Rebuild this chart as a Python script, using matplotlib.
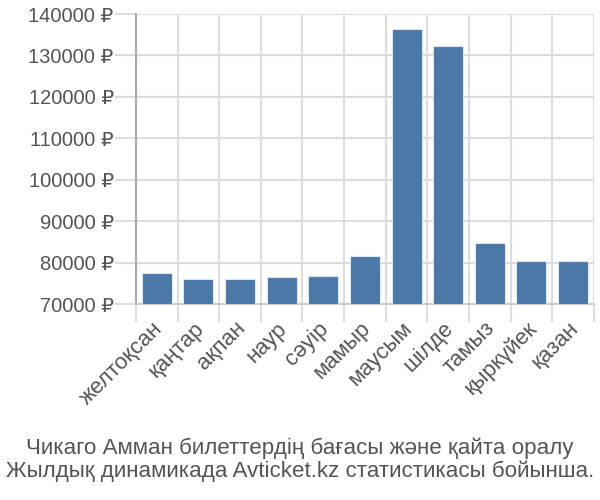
import matplotlib.pyplot as plt
import matplotlib.transforms as mtransforms
import numpy as np

months = ['желтоқсан', 'қаңтар', 'ақпан', 'наур', 'сәуір', 'мамыр',
          'маусым', 'шілде', 'тамыз', 'қыркүйек', 'қазан']
prices = [77500, 76000, 76000, 76500, 76800, 81600,
          136500, 132300, 84800, 80500, 80500]
yticks = [70000, 80000, 90000, 100000, 110000, 120000, 130000, 140000]
caption = ('Чикаго Амман билеттердің бағасы және қайта оралу\n'
           'Жылдық динамикада Avticket.kz статистикасы бойынша.')

plt.rcParams['font.family'] = ['Liberation Sans', 'DejaVu Sans']
txt = '#555555'
grid = '#dddddd'


def main():
    fig = plt.figure(figsize=(6, 5), dpi=100)
    ax = fig.add_axes([0.2267, 0.392, 0.763, 0.58])

    x = np.arange(len(months))
    ax.bar(x, prices, width=0.72, color='#4c78a8',
           edgecolor='#dce6f0', linewidth=0.8, zorder=3)

    ax.set_xlim(-0.5, len(months) - 0.5)
    ax.set_ylim(70000, 140000)
    ax.set_yticks(yticks)
    ax.set_yticklabels([f'{v} ₽' for v in yticks])

    # vertical grid at category boundaries, extended below as ticks
    bounds = np.arange(len(months) + 1) - 0.5
    ax.set_xticks(bounds, minor=True)
    ax.set_xticks(x)
    ax.set_xticklabels(months, rotation=45, ha='right', rotation_mode='anchor')
    ax.tick_params(axis='x', which='major', length=0, pad=10, labelsize=16,
                   labelcolor=txt)
    ax.tick_params(axis='x', which='minor', length=13, width=1.5, color=grid)
    ax.tick_params(axis='y', length=15, width=1.5, color=grid, pad=1,
                   labelsize=14.5, labelcolor=txt)
    ax.grid(True, which='minor', axis='x', color=grid, linewidth=1.5, zorder=0)
    ax.grid(True, which='major', axis='y', color=grid, linewidth=1.5, zorder=0)

    shift = mtransforms.ScaledTranslation(-5 / 100, 0, fig.dpi_scale_trans)
    for lbl in ax.get_xticklabels():
        lbl.set_transform(lbl.get_transform() + shift)

    for s in ['top', 'right']:
        ax.spines[s].set_visible(False)
    ax.spines['bottom'].set_color('#cccccc')
    ax.spines['bottom'].set_linewidth(1.5)
    ax.spines['left'].set_color('#aaaaaa')
    ax.spines['left'].set_linewidth(1.5)

    fig.text(0.5, 0.08, caption, ha='center', va='center', fontsize=16.1,
             color=txt, linespacing=1.1)

    fig.savefig('out.png', dpi=100)


if __name__ == '__main__':
    main()
